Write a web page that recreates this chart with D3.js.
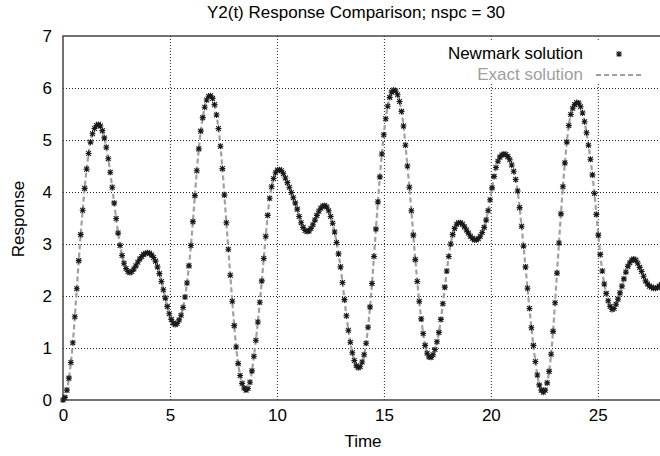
<!DOCTYPE html>
<html><head><meta charset="utf-8">
<script src="https://cdn.jsdelivr.net/npm/d3@7"></script>
<style>
body{margin:0;background:#fff;}
text{font-family:"Liberation Sans",Arial,Helvetica,sans-serif;}
</style></head>
<body><svg id="c" width="660" height="456"></svg>
<script>
const titleText = "Y2(t) Response Comparison; nspc = 30";
const xLabel = "Time";
const yLabel = "Response";
const seriesNames = ["Newmark solution", "Exact solution"];
const xTicks = [0, 5, 10, 15, 20, 25];
const yTicks = [0, 1, 2, 3, 4, 5, 6, 7];
const xDomain = [0, 28];
const yDomain = [0, 7];
const dt = 0.092; // time step between samples
const response = [
0.00,0.05,0.19,0.42,0.72,1.10,1.60,2.14,2.68,3.18,3.65,4.07,4.44,4.74,4.96,5.12,5.22,5.28,5.30,5.27,
5.18,5.04,4.86,4.64,4.38,4.09,3.79,3.49,3.21,2.97,2.78,2.63,2.53,2.47,2.45,2.47,2.52,2.58,2.65,2.71,
2.76,2.80,2.82,2.83,2.82,2.79,2.74,2.67,2.56,2.43,2.28,2.12,1.96,1.80,1.66,1.55,1.48,1.45,1.47,1.54,
1.63,1.78,1.98,2.25,2.58,2.97,3.43,3.93,4.41,4.83,5.17,5.43,5.63,5.77,5.84,5.85,5.80,5.68,5.48,5.22,
4.88,4.45,3.94,3.41,2.90,2.40,1.90,1.43,1.02,0.70,0.47,0.32,0.23,0.19,0.22,0.34,0.56,0.84,1.15,1.50,
1.88,2.29,2.72,3.15,3.55,3.88,4.10,4.26,4.37,4.42,4.43,4.41,4.35,4.27,4.18,4.09,3.99,3.89,3.79,3.67,
3.53,3.41,3.32,3.26,3.24,3.25,3.30,3.37,3.46,3.55,3.63,3.69,3.73,3.74,3.71,3.64,3.53,3.40,3.23,3.03,
2.81,2.56,2.26,1.93,1.62,1.34,1.11,0.91,0.76,0.66,0.62,0.64,0.73,0.87,1.09,1.40,1.79,2.24,2.76,3.29,
3.81,4.29,4.73,5.10,5.41,5.65,5.82,5.92,5.96,5.94,5.87,5.74,5.55,5.27,4.90,4.50,4.09,3.64,3.17,2.70,
2.28,1.90,1.56,1.28,1.05,0.90,0.83,0.82,0.87,0.97,1.12,1.30,1.55,1.85,2.17,2.48,2.76,3.00,3.18,3.30,
3.38,3.41,3.41,3.38,3.33,3.27,3.21,3.15,3.11,3.08,3.08,3.10,3.15,3.22,3.32,3.46,3.64,3.85,4.08,4.30,
4.47,4.59,4.67,4.71,4.73,4.72,4.68,4.62,4.52,4.40,4.24,4.02,3.70,3.34,2.96,2.56,2.15,1.76,1.39,1.05,
0.74,0.48,0.29,0.19,0.15,0.19,0.33,0.55,0.88,1.32,1.87,2.44,3.02,3.58,4.10,4.56,4.96,5.28,5.49,5.61,
5.68,5.72,5.71,5.64,5.52,5.35,5.14,4.90,4.63,4.33,3.97,3.57,3.17,2.80,2.48,2.23,2.05,1.91,1.80,1.74,
1.76,1.84,1.94,2.06,2.19,2.33,2.46,2.57,2.64,2.69,2.71,2.69,2.63,2.55,2.47,2.38,2.29,2.23,2.19,2.17,
2.15,2.15,2.16,2.19,2.22
];

const svg = d3.select("#c");
const W = 660, H = 456;
const L = 63, R = 662, T = 36, B = 400;
const FS = 17;
const x = d3.scaleLinear().domain(xDomain).range([L, R]);
const y = d3.scaleLinear().domain(yDomain).range([B, T]);
const data = response.map((v, i) => ({t: i * dt, v: v}));

svg.append("rect").attr("width", W).attr("height", H).attr("fill", "#fff");

// grid
const gx = svg.append("g").attr("transform", `translate(0,${B})`)
  .call(d3.axisBottom(x).tickValues(xTicks.filter(d => d > 0)).tickSize(-(B - T)).tickFormat(""));
gx.select(".domain").remove();
gx.selectAll("line").attr("stroke", "#222").attr("stroke-dasharray", "1,2").attr("stroke-width", 1);
const gy = svg.append("g").attr("transform", `translate(${L},0)`)
  .call(d3.axisLeft(y).tickValues(yTicks.filter(d => d > 0 && d < 7)).tickSize(-(R - L)).tickFormat(""));
gy.select(".domain").remove();
gy.selectAll("line").attr("stroke", "#222").attr("stroke-dasharray", "1,2").attr("stroke-width", 1);

// legend background (hides grid behind key)
svg.append("rect").attr("x", 445).attr("y", 42).attr("width", 215).attr("height", 40).attr("fill", "#fff");

// border
svg.append("path").attr("d", `M${R},${T}H${L}V${B}H${R}`)
  .attr("fill", "none").attr("stroke", "#444").attr("stroke-width", 1.5);

// clip
svg.append("clipPath").attr("id", "clip").append("rect")
  .attr("x", L - 3).attr("y", T).attr("width", R - L + 6).attr("height", B - T + 3);
const plot = svg.append("g").attr("clip-path", "url(#clip)");

const starPath = "M-3,0H3M0,-3V3M-2.4,-2.4L2.4,2.4M-2.4,2.4L2.4,-2.4";

// exact solution line
const line = d3.line().x(d => x(d.t)).y(d => y(d.v)).curve(d3.curveCatmullRom);
plot.append("path").datum(data).attr("d", line)
  .attr("fill", "none").attr("stroke", "#a0a0a0").attr("stroke-width", 2.2)
  .attr("stroke-dasharray", "5,3");

// Newmark markers
plot.append("g").selectAll("path").data(data).join("path")
  .attr("transform", d => `translate(${x(d.t)},${y(d.v)})`)
  .attr("d", starPath).attr("fill", "none").attr("stroke", "#1a1a1a").attr("stroke-width", 1.1);

// tick labels
const ax = svg.append("g").attr("transform", `translate(0,${B})`)
  .call(d3.axisBottom(x).tickValues(xTicks).tickSize(0).tickPadding(9).tickFormat(d3.format("d")));
ax.select(".domain").remove();
ax.selectAll("text").attr("font-size", FS).attr("fill", "#000")
  .attr("font-family", "Liberation Sans, Arial, sans-serif");
const ay = svg.append("g").attr("transform", `translate(${L},0)`)
  .call(d3.axisLeft(y).tickValues(yTicks).tickSize(0).tickPadding(11).tickFormat(d3.format("d")));
ay.select(".domain").remove();
ay.selectAll("text").attr("font-size", FS).attr("fill", "#000")
  .attr("font-family", "Liberation Sans, Arial, sans-serif");

// titles
svg.append("text").attr("x", 356).attr("y", 18).attr("text-anchor", "middle")
  .attr("font-size", FS).text(titleText);
svg.append("text").attr("x", 363).attr("y", 447).attr("text-anchor", "middle")
  .attr("font-size", FS).text(xLabel);
svg.append("text").attr("transform", "translate(24,219) rotate(-90)").attr("text-anchor", "middle")
  .attr("font-size", FS).text(yLabel);

// legend
svg.append("text").attr("x", 583).attr("y", 59).attr("text-anchor", "end")
  .attr("font-size", FS).attr("fill", "#000").text(seriesNames[0]);
svg.append("path").attr("transform", "translate(619,54)").attr("d", starPath)
  .attr("fill", "none").attr("stroke", "#1a1a1a").attr("stroke-width", 1.1);
svg.append("text").attr("x", 583).attr("y", 80).attr("text-anchor", "end")
  .attr("font-size", FS).attr("fill", "#a0a0a0").text(seriesNames[1]);
svg.append("line").attr("x1", 596).attr("x2", 642).attr("y1", 75).attr("y2", 75)
  .attr("stroke", "#a0a0a0").attr("stroke-width", 2).attr("stroke-dasharray", "5,3");
</script></body></html>
